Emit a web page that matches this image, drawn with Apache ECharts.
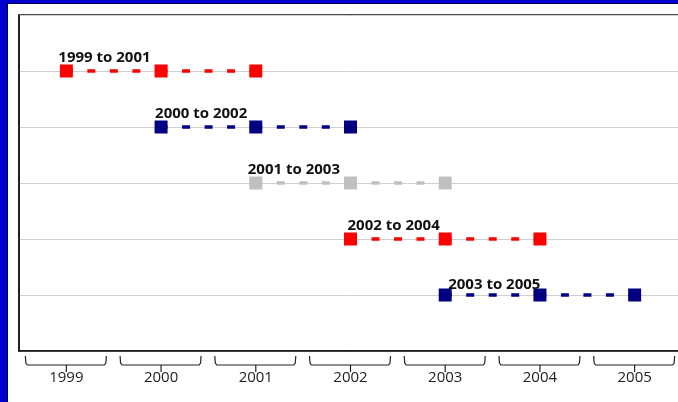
<!DOCTYPE html>
<html><head><meta charset="utf-8">
<script src="https://cdn.jsdelivr.net/npm/echarts@6/dist/echarts.min.js"></script>
<style>html,body{margin:0;padding:0;background:#fff;overflow:hidden;width:678px;height:402px}#c{width:692px;height:402px}</style>
</head><body><div id="c"></div>
<script>
// ---- data ----
var years = ['1999','2000','2001','2002','2003','2004','2005'];
var seriesNames = ['1999 to 2001','2000 to 2002','2001 to 2003','2002 to 2004','2003 to 2005'];
var s1999 = [['1999',5],['2000',5],['2001',5]];
var s2000 = [['2000',4],['2001',4],['2002',4]];
var s2001 = [['2001',3],['2002',3],['2003',3]];
var s2002 = [['2002',2],['2003',2],['2004',2]];
var s2003 = [['2003',1],['2004',1],['2005',1]];
var seriesData = [s1999, s2000, s2001, s2002, s2003];

// ---- styles ----
var colors = ['#FF0000','#000080','#C0C0C0','#FF0000','#000080'];
var labelOffsets = [[-8,2],[-6,2],[-8,2],[-3,2],[3,5]];
var FONT = '"Open Sans", "Noto Sans", sans-serif';

var chart = echarts.init(document.getElementById('c'), null, {renderer:'canvas'});

var series = [];
// dashed connectors, one per consecutive pair so the dash pattern restarts at each point
seriesData.forEach(function(d, i){
  for (var j = 0; j < d.length - 1; j++) {
    series.push({
      name: seriesNames[i], type: 'line', data: [d[j], d[j+1]],
      showSymbol: false, symbol: 'none', silent: true, animation: false, z: 2,
      lineStyle: {color: colors[i], width: 3.5, type: [8,14.5], dashOffset: 1.5, cap: 'butt'}
    });
  }
});
// markers + labels
seriesData.forEach(function(d, i){
  series.push({
    name: seriesNames[i], type: 'line', data: d.map(function(p, j){
      var item = {value: p};
      if (j === 0) item.label = {
        show: true, formatter: seriesNames[i], position: 'top', align: 'left',
        distance: 1, offset: labelOffsets[i], fontFamily: FONT, fontWeight: 'bold',
        fontSize: 15, color: '#111'
      };
      return item;
    }),
    symbol: 'rect', symbolSize: 13, showSymbol: true,
    itemStyle: {color: colors[i]},
    lineStyle: {width: 0, opacity: 0},
    label: {show: false}, animation: false, z: 3
  });
});

series.push({
  type: 'custom', silent: true, animation: false, clip: false, z: 2,
  data: years.map(function(y, i){ return [i, 0]; }),
  renderItem: function(params, api){
    var p = api.coord([api.value(0), api.value(1)]);
    var x = p[0], y = p[1];
    var st = {stroke: '#222', lineWidth: 1.2, fill: null};
    return {type: 'group', children: [
      {type: 'polyline', shape: {points: [[x-41, y+5],[x-40.5, y+12],[x-39, y+14],[x+38, y+14],[x+39.5, y+12],[x+40, y+5]]}, style: st},
      {type: 'line', shape: {x1: x, y1: y+14, x2: x, y2: y+21}, style: st}
    ]};
  }
});

chart.setOption({
  backgroundColor: '#fff',
  animation: false,
  graphic: [
    {type:'rect', shape:{x:0,y:0,width:8,height:402}, style:{fill:'#0000CC'}, z:10},
    {type:'rect', shape:{x:0,y:0,width:692,height:3}, style:{fill:'#0000CC'}, z:10},
    {type:'line', shape:{x1:7.5,y1:3,x2:7.5,y2:402}, style:{stroke:'#000055',lineWidth:1}, z:10},
    {type:'line', shape:{x1:8,y1:3.5,x2:692,y2:3.5}, style:{stroke:'#000055',lineWidth:1}, z:10}
  ],
  grid: {left: 19, top: 15, width: 663, bottom: 51, show: true, borderColor: '#111', borderWidth: 1.5, backgroundColor: 'transparent'},
  xAxis: {
    type: 'category', data: years, boundaryGap: true,
    axisLine: {show: true, lineStyle: {color: '#111', width: 1.5}},
    axisTick: {show: false},
    axisLabel: {fontFamily: FONT, fontSize: 15, color: '#222', margin: 19},
    splitLine: {show: false}
  },
  yAxis: {
    type: 'value', min: 0, max: 6, interval: 1,
    axisLine: {show: true, lineStyle: {color: '#111', width: 1.5}},
    axisTick: {show: false}, axisLabel: {show: false},
    splitLine: {show: true, lineStyle: {color: '#D0D0D0', width: 1}}
  },
  series: series
});
</script></body></html>
